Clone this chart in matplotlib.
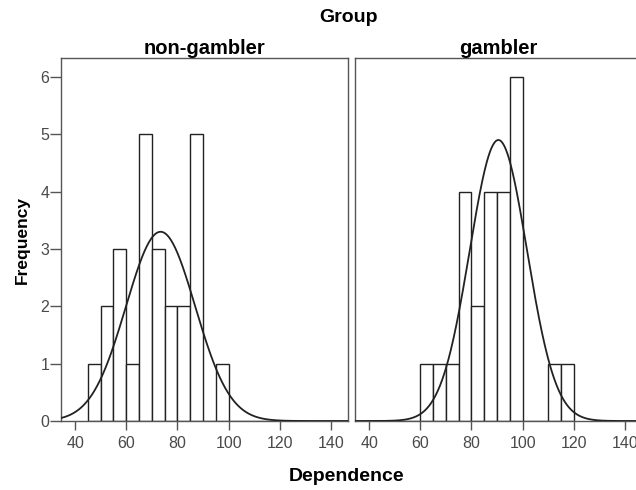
import numpy as np
import matplotlib
matplotlib.use("Agg")
import matplotlib.pyplot as plt

plt.rcParams['font.family'] = ['Liberation Sans', 'DejaVu Sans']

# histogram data (bin width 5)
groups = ['non-gambler', 'gambler']
bin_left = [45, 50, 55, 60, 65, 70, 75, 80, 85, 90, 95, 100, 105, 110, 115]
counts_nongambler = [1, 2, 3, 1, 5, 3, 2, 2, 5, 0, 1, 0, 0, 0, 0]
counts_gambler = [0, 0, 0, 1, 1, 1, 4, 2, 4, 4, 6, 0, 0, 1, 1]
bin_width = 5

# normal curve: mean, sd, peak height
curve_mean = [73.4, 90.5]
curve_sd = [13.5, 11.2]
curve_peak = [3.3, 4.9]

x_ticks = [40, 60, 80, 100, 120, 140]
y_ticks = [0, 1, 2, 3, 4, 5, 6]

fig = plt.figure(figsize=(6.36, 4.9), dpi=100)
ax1 = fig.add_axes([61 / 636, 1 - 421 / 490, 287 / 636, 363 / 490])
ax2 = fig.add_axes([355 / 636, 1 - 421 / 490, 287 / 636, 363 / 490])

frame_col = '#555555'
tick_col = '#4a4a4a'
all_counts = [counts_nongambler, counts_gambler]
xs = np.linspace(34.5, 146.6, 400)

for i, ax in enumerate([ax1, ax2]):
    ax.bar(bin_left, all_counts[i], width=bin_width, align='edge',
           facecolor='white', edgecolor='#222222', linewidth=1.0, zorder=2)
    ys = curve_peak[i] * np.exp(-0.5 * ((xs - curve_mean[i]) / curve_sd[i]) ** 2)
    ax.plot(xs, ys, color='#222222', linewidth=1.3, zorder=3)
    ax.set_xlim(34.5, 146.6)
    ax.set_ylim(0, 6.33)
    ax.set_xticks(x_ticks)
    ax.tick_params(axis='x', direction='out', length=6.5, width=1, color=frame_col,
                   labelsize=11.5, labelcolor=tick_col, pad=4)
    for s in ax.spines.values():
        s.set_color(frame_col)
        s.set_linewidth(1.0)
    ax.set_title(groups[i], fontsize=14.5, fontweight='bold', pad=2)

ax1.set_yticks(y_ticks)
ax1.tick_params(axis='y', direction='out', length=8, width=1, color=frame_col,
                labelsize=11.5, labelcolor=tick_col, pad=0.5)
ax2.set_yticks([])

fig.text(349 / 636, 1 - 18 / 490, 'Group', ha='center', va='center',
         fontsize=14, fontweight='bold')
fig.text(347 / 636, 1 - 476 / 490, 'Dependence', ha='center', va='center',
         fontsize=14, fontweight='bold')
fig.text(22 / 636, 1 - 240 / 490, 'Frequency', ha='center', va='center',
         rotation=90, fontsize=12.5, fontweight='bold')

fig.savefig('out.png', dpi=100)
